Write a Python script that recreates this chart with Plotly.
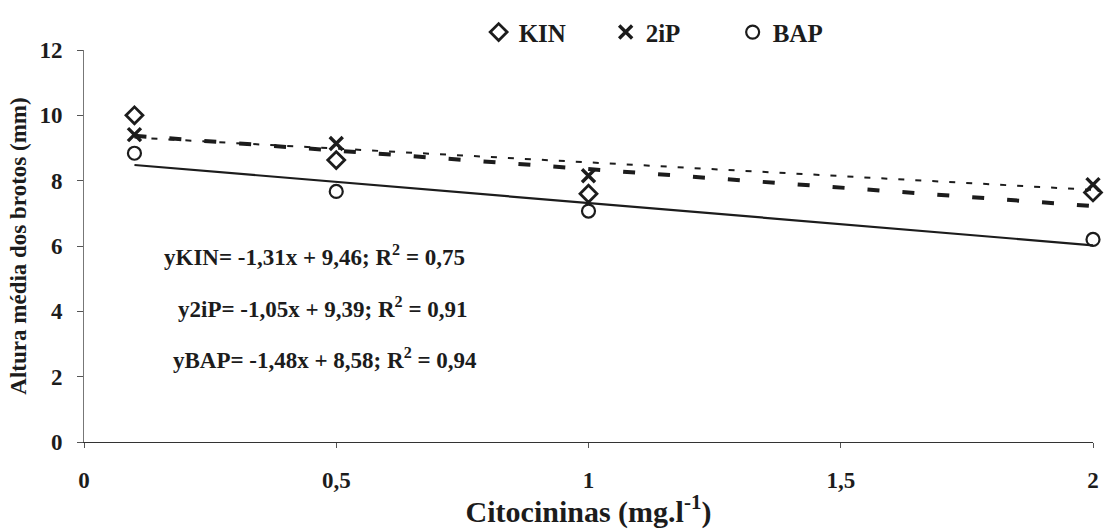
import numpy as np
import plotly.graph_objects as go

# Cytokinin concentration (mg/l) and mean shoot height (mm) per cytokinin
conc = [0.1, 0.5, 1.0, 2.0]
kin = [10.0, 8.63, 7.60, 7.64]
ip2 = [9.41, 9.14, 8.15, 7.88]
bap = [8.84, 7.67, 7.07, 6.20]

x_ticks = [0, 0.5, 1, 1.5, 2]
x_tick_text = ["0", "0,5", "1", "1,5", "2"]
y_ticks = [0, 2, 4, 6, 8, 10, 12]

equations = [
    "yKIN= -1,31x + 9,46; R<sup>2</sup> = 0,75",
    "y2iP= -1,05x + 9,39; R<sup>2</sup> = 0,91",
    "yBAP= -1,48x + 8,58; R<sup>2</sup> = 0,94",
]

INK = "#1c1c1c"
FONT = "Liberation Serif"

# plot-area geometry in pixels
W, H = 1108, 529
L, R, T, B = 84, 9, 43, 87
PW, PH = W - L - R, H - T - B


def px_to_paper(px, py):
    return (px - L) / PW, (H - B - py) / PH


fig = go.Figure()

# linear trend lines fitted to each series
trend_styles = [
    (kin, dict(color=INK, width=4, dash="12px,23px")),
    (ip2, dict(color=INK, width=2, dash="6px,11px")),
    (bap, dict(color=INK, width=2.2)),
]
x_ends = np.array([conc[0], conc[-1]])
for ys, style in trend_styles:
    slope, intercept = np.polyfit(conc, ys, 1)
    fig.add_trace(go.Scatter(
        x=x_ends, y=slope * x_ends + intercept, mode="lines",
        line=style, showlegend=False, hoverinfo="skip", cliponaxis=False,
    ))

# observed means
series = [
    ("KIN", kin, dict(symbol="diamond-open", size=13, line=dict(width=2.8, color=INK), color=INK)),
    ("2iP", ip2, dict(symbol="x-thin", size=13, line=dict(width=3.4, color=INK), color=INK)),
    ("BAP", bap, dict(symbol="circle-open", size=13, line=dict(width=2.2, color=INK), color=INK)),
]
for name, ys, marker in series:
    fig.add_trace(go.Scatter(x=conc, y=ys, mode="markers", name=name,
                             marker=marker, cliponaxis=False))

eq_pos = [(162, 252), (177, 305), (172, 357)]
for text, (px, py) in zip(equations, eq_pos):
    ax, ay = px_to_paper(px, py)
    fig.add_annotation(
        x=ax, y=ay, xref="paper", yref="paper",
        text=text, showarrow=False, xanchor="left", yanchor="middle",
        font=dict(family=FONT, size=23, color=INK, weight="bold"),
    )

lx, ly = px_to_paper(481, 25)
fig.update_layout(
    width=W, height=H,
    margin=dict(l=L, r=R, t=T, b=B),
    paper_bgcolor="white", plot_bgcolor="white",
    font=dict(family=FONT, color=INK, weight="bold"),
    legend=dict(
        orientation="h", x=lx, xanchor="left", y=ly, yanchor="middle",
        font=dict(family=FONT, size=25, color=INK, weight="bold"),
        entrywidth=82, entrywidthmode="pixels", itemwidth=30,
        bgcolor="rgba(0,0,0,0)",
    ),
    xaxis=dict(
        range=[0, 2], tickvals=x_ticks, ticktext=x_tick_text,
        showgrid=False, zeroline=False, showline=True, linecolor="#333", linewidth=1.3,
        ticks="outside", ticklen=5, tickcolor="#555", ticklabelstandoff=12,
        tickfont=dict(family=FONT, size=23, color=INK, weight="bold"),
        title=dict(text="Citocininas (mg.l<sup>-1</sup>)", standoff=6,
                   font=dict(family=FONT, size=30, color=INK, weight="bold")),
    ),
    yaxis=dict(
        range=[0, 12], tickvals=y_ticks,
        showgrid=False, zeroline=False, showline=True, linecolor="#777", linewidth=1,
        ticks="outside", ticklen=6, tickcolor="#555", ticklabelstandoff=10,
        tickfont=dict(family=FONT, size=23, color=INK, weight="bold"),
        title=dict(text="Altura média dos brotos (mm)", standoff=6,
                   font=dict(family=FONT, size=23, color=INK, weight="bold")),
    ),
)

fig.write_html("out.html")
